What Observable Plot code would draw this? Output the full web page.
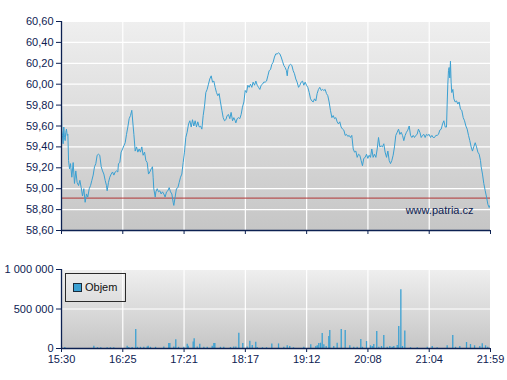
<!DOCTYPE html>
<html><head><meta charset="utf-8">
<script src="https://cdn.jsdelivr.net/npm/d3@7"></script>
<script src="https://cdn.jsdelivr.net/npm/@observablehq/plot@0.6"></script>
<style>
body{margin:0;background:#fff;font-family:Arial,"Liberation Sans",sans-serif;}
#wrap{position:relative;width:507px;height:380px;overflow:hidden;}
#topPanel{position:absolute;left:0;top:0;}
#bottomPanel{position:absolute;left:0;top:240px;}
#legend{position:absolute;left:65px;top:273px;width:61px;height:29px;border:1px solid #2a2a2a;box-sizing:border-box;}
#legend .sw{position:absolute;left:7px;top:9px;width:7px;height:7px;border:1px solid #1a2a3a;}
#legend .lb{position:absolute;left:19px;top:7px;font-size:11px;line-height:13px;color:#111;}
</style>
</head><body>
<div id="wrap"><div id="topPanel"></div><div id="bottomPanel"></div>
<div id="legend"><div class="sw"></div><div class="lb"></div></div></div>
<script>
// ---- data (minutes after 15:30) ----
const timeLabels = ["15:30","16:25","17:21","18:17","19:12","20:08","21:04","21:59"];
const priceTicks = [58.6,58.8,59.0,59.2,59.4,59.6,59.8,60.0,60.2,60.4,60.6];
const volumeTicks = [0, 500000, 1000000];
const prevClose = 58.91;
const seriesVolume = "Objem";
const watermark = "www.patria.cz";

const priceMin = [0,0.3,0.9,1.5,2.1,2.7,3.3,3.9,4.5,5.2,5.8,6.4,7.3,8.2,9.4,10.6,11.8,13.0,14.2,15.5,16.7,17.9,19.1,20.3,21.5,22.7,23.9,25.2,26.4,27.6,28.8,30.0,31.2,32.4,33.6,34.8,36.1,37.3,38.5,39.7,40.9,41.5,42.7,43.9,45.2,46.4,47.6,48.8,50.0,51.2,51.8,53.0,54.2,55.5,56.7,57.9,59.1,60.3,61.5,62.7,63.9,
65.2,65.8,67.0,68.2,69.4,70.6,71.8,73.0,74.2,75.5,76.7,77.9,79.1,80.3,81.5,82.7,83.3,83.9,85.2,85.8,87.0,88.2,89.4,90.6,91.8,93.0,94.2,95.5,96.7,97.9,99.1,100.3,101.5,102.1,103.3,104.5,105.8,107.0,108.2,109.4,110.6,111.8,113.0,114.2,115.5,116.7,117.9,119.1,120.3,121.5,122.7,123.9,125.2,126.4,127.6,128.8,130.0,
131.2,132.4,133.6,134.8,136.1,137.3,138.5,139.7,140.9,142.1,143.3,144.5,145.8,147.0,148.2,149.4,150.6,151.8,153.0,154.2,155.5,156.7,157.9,158.5,159.7,160.9,162.1,163.3,164.5,165.8,167.0,168.2,169.4,170.6,171.8,173.0,174.2,175.5,176.7,177.9,179.1,180.3,181.5,182.7,183.9,185.2,186.4,187.6,188.8,190.0,191.2,192.4,193.6,194.8,
196.1,197.3,198.5,199.7,200.9,202.1,203.3,204.5,205.2,205.8,207.0,208.2,209.4,210.6,211.8,213.0,214.2,215.5,216.7,217.9,219.1,220.3,221.5,222.7,223.9,225.2,226.4,227.6,228.8,230.0,231.2,232.4,233.6,234.8,236.1,237.3,238.5,239.7,240.9,242.1,243.3,244.5,245.8,247.0,248.2,249.4,250.6,251.8,253.0,254.2,255.5,256.7,257.9,259.1,260.3,
261.5,262.7,263.9,265.2,266.4,267.6,268.8,270.0,271.2,272.4,273.6,274.8,276.1,277.3,278.5,279.7,280.9,282.1,283.3,284.5,285.8,287.0,288.2,289.4,290.6,291.8,293.0,294.2,295.5,296.7,297.9,299.1,300.3,301.5,302.7,303.9,305.2,306.4,307.6,308.8,310.0,311.2,312.4,313.6,314.8,316.1,317.3,318.5,319.7,320.9,322.1,323.3,324.5,325.8,
327.0,328.2,329.4,330.6,331.8,333.0,334.2,335.5,336.7,337.9,339.1,340.3,341.5,342.7,343.9,345.2,346.4,347.6,348.8,350.0,350.6,351.2,351.8,352.4,353.0,353.6,354.2,354.8,355.8,356.7,357.9,359.1,360.3,361.5,362.7,363.9,365.2,366.4,367.6,368.8,370.0,371.2,372.4,373.6,374.8,376.1,377.3,378.5,379.7,380.9,381.5,382.7,383.9,385.2,386.4,387.6,388.8,389.7];
const price = [59.83,59.56,59.51,59.43,59.59,59.49,59.46,59.54,59.57,59.51,59.52,59.27,59.19,59.24,59.11,59.25,59.05,59.17,59.06,59.03,59.08,59.01,58.93,59.00,58.87,58.95,58.92,59.00,59.03,59.08,59.13,59.21,59.24,59.32,59.33,59.32,59.21,59.17,59.14,59.08,59.03,58.98,59.06,59.11,59.14,59.16,59.13,59.16,59.17,59.16,59.24,59.25,59.35,59.38,59.41,59.44,59.52,59.59,59.67,59.70,59.75,
59.59,59.52,59.36,59.40,59.35,59.38,59.35,59.40,59.32,59.35,59.27,59.25,59.14,59.16,59.19,59.21,59.11,59.00,58.92,58.97,59.00,58.97,58.98,58.95,58.97,58.95,58.92,58.97,58.98,59.01,58.97,58.95,58.87,58.84,58.92,59.00,59.01,59.06,59.11,59.14,59.25,59.35,59.49,59.54,59.62,59.65,59.59,59.66,59.60,59.65,59.59,59.64,59.59,59.60,59.57,59.70,59.79,
59.92,59.95,60.00,60.05,60.08,60.02,60.03,59.97,59.92,59.89,59.91,59.83,59.75,59.68,59.65,59.66,59.70,59.71,59.67,59.73,59.65,59.68,59.65,59.63,59.67,59.68,59.67,59.71,59.78,59.83,59.94,59.92,59.99,59.97,60.00,59.97,60.02,59.99,60.03,59.99,59.97,59.95,59.99,60.00,60.02,60.02,60.03,60.08,60.13,60.14,60.19,60.21,60.26,60.29,
60.29,60.30,60.29,60.26,60.22,60.18,60.16,60.13,60.08,60.14,60.18,60.19,60.18,60.13,60.10,60.05,60.02,59.97,59.99,60.02,60.03,59.99,60.02,59.99,59.97,59.92,59.86,59.84,59.83,59.86,59.84,59.91,59.95,59.97,59.94,59.95,59.94,59.95,59.91,59.89,59.83,59.75,59.68,59.70,59.67,59.68,59.64,59.62,59.64,59.59,59.57,59.56,59.51,59.52,59.50,
59.51,59.49,59.51,59.38,59.35,59.36,59.30,59.33,59.32,59.27,59.22,59.29,59.30,59.33,59.29,59.32,59.30,59.38,59.30,59.33,59.30,59.38,59.49,59.40,59.41,59.40,59.43,59.35,59.30,59.36,59.27,59.24,59.27,59.32,59.40,59.51,59.54,59.57,59.52,59.54,59.51,59.46,59.51,59.54,59.56,59.60,59.51,59.49,59.51,59.49,59.51,59.52,59.57,59.54,
59.49,59.51,59.52,59.49,59.52,59.51,59.52,59.49,59.51,59.49,59.49,59.51,59.51,59.52,59.56,59.57,59.62,59.65,59.59,59.59,59.81,60.00,60.13,60.16,60.06,60.22,60.02,59.92,59.95,59.86,59.83,59.84,59.81,59.83,59.76,59.75,59.68,59.65,59.60,59.57,59.51,59.46,59.40,59.36,59.40,59.44,59.40,59.35,59.33,59.27,59.21,59.14,59.05,58.98,58.92,58.85,58.82,58.84];

const volMin = [3.0,29.4,32.7,35.7,41.5,44.5,47.5,59.7,61.2,64.2,67.5,69.1,71.8,74.8,77.9,78.8,80.9,85.5,93.0,97.5,98.5,102.1,103.9,106.4,111.2,114.3,115.2,119.7,120.6,123.4,125.7,129.4,132.5,137.0,138.5,139.4,144.5,147.5,153.6,156.6,158.5,161.2,164.8,168.8,171.2,173.4,176.6,177.9,182.7,186.4,191.2,197.3,202.1,205.2,207.5,210.9,220.3,226.6,231.2,232.5,233.9,235.5,237.0,238.5,240.6,243.0,243.9,247.5,250.6,254.3,257.9,262.1,265.7,268.8,272.1,273.6,277.3,280.9,282.5,283.9,286.6,288.5,290.9,293.0,296.1,298.5,300.6,302.1,305.2,306.6,308.5,310.0,312.1,317.3,323.4,332.5,337.0,341.5,350.6,355.7,358.2,362.1,368.2,371.8,375.5,380.3,382.5,385.5,387.5];
const volume = [12000,29000,10000,10000,10000,10000,10000,29000,12000,12000,242000,15000,15000,15000,20000,29000,15000,15000,20000,62000,62000,20000,112000,15000,15000,54000,29000,83000,125000,20000,54000,15000,15000,29000,62000,62000,15000,15000,12000,20000,20000,192000,62000,20000,92000,38000,79000,12000,10000,10000,58000,58000,15000,34000,25000,10000,15000,46000,25000,34000,63000,67000,189000,46000,25000,151000,227000,25000,67000,239000,227000,34000,15000,15000,113000,15000,88000,34000,25000,50000,214000,15000,25000,164000,15000,25000,15000,25000,38000,277000,744000,25000,223000,10000,10000,15000,25000,10000,34000,164000,15000,25000,76000,50000,34000,25000,59000,34000,15000];

// ---- shared styling ----
const navy = "#0d2152";
const lineColor = "#3aa0d2";
const xDomain = [0, 390];
const xTicks = timeLabels.map((_, i) => i * 390 / 7);
const xFmt = (d) => timeLabels[xTicks.indexOf(d)];
const font = {fontFamily: 'Arial, "Liberation Sans", sans-serif', fontSize: "11px", color: navy, background: "transparent", overflow: "visible"};

function gradientBg(id) {
  return (index, scales, values, dims) => {
    const g = d3.create("svg:g");
    const lg = g.append("defs").append("linearGradient").attr("id", id)
      .attr("x1", 0).attr("y1", 0).attr("x2", 0).attr("y2", 1);
    lg.append("stop").attr("offset", "0%").attr("stop-color", "#efefef");
    lg.append("stop").attr("offset", "100%").attr("stop-color", "#c6c6c6");
    g.append("rect")
      .attr("x", dims.marginLeft).attr("y", dims.marginTop)
      .attr("width", dims.width - dims.marginLeft - dims.marginRight)
      .attr("height", dims.height - dims.marginTop - dims.marginBottom)
      .attr("fill", `url(#${id})`);
    return g.node();
  };
}

const priceData = priceMin.map((m, i) => ({m, p: price[i]}));
const volData = volMin.map((m, i) => ({m, v: volume[i]}));
const innerX = xTicks.slice(1, -1);

const topChart = Plot.plot({
  width: 507, height: 240,
  marginLeft: 61, marginRight: 17, marginTop: 21, marginBottom: 10,
  style: font,
  x: {domain: xDomain, axis: null, label: null},
  y: {domain: [58.6, 60.6], axis: null, label: null},
  marks: [
    gradientBg("gTop"),
    Plot.ruleY(priceTicks.slice(1), {stroke: "#ffffff", strokeWidth: 1.2}),
    Plot.ruleX(innerX, {stroke: "#ffffff", strokeWidth: 1.2}),
    Plot.ruleY([prevClose], {stroke: "#b03535", strokeWidth: 1}),
    Plot.line(priceData, {x: "m", y: "p", stroke: lineColor, strokeWidth: 1, clip: true}),
    Plot.text([watermark], {frameAnchor: "bottom-right", dx: -17, dy: -17, fill: navy, fontSize: 11, textAnchor: "end"}),
    Plot.axisY({ticks: priceTicks, label: null, tickFormat: d => d.toFixed(2).replace(".", ","), tickSize: 5, tickPadding: 3, stroke: navy, fill: navy}),
    Plot.axisX({ticks: xTicks, label: null, tickFormat: () => "", tickSize: 4, tickPadding: 0, stroke: navy}),
    Plot.ruleX([0], {stroke: navy, strokeWidth: 1.3}),
    Plot.ruleY([58.6], {stroke: navy, strokeWidth: 1.3})
  ]
});
document.getElementById("topPanel").appendChild(topChart);

const bottomChart = Plot.plot({
  width: 507, height: 140,
  marginLeft: 61, marginRight: 17, marginTop: 29, marginBottom: 32,
  style: font,
  x: {domain: xDomain, axis: null, label: null},
  y: {domain: [0, 1000000], axis: null, label: null},
  marks: [
    gradientBg("gBot"),
    Plot.ruleY(volumeTicks.slice(1), {stroke: "#ffffff", strokeWidth: 1.2}),
    Plot.ruleX(innerX, {stroke: "#ffffff", strokeWidth: 1.2}),
    Plot.ruleX(volData, {x: "m", y1: 0, y2: "v", stroke: lineColor, strokeWidth: 1.3}),
    Plot.axisY({ticks: volumeTicks, label: null, tickFormat: d => d3.format(",")(d).replace(/,/g, " "), tickSize: 5, tickPadding: 3, stroke: navy, fill: navy}),
    Plot.axisX({ticks: xTicks, label: null, tickFormat: xFmt, tickSize: 4, tickPadding: 3, stroke: navy, fill: navy}),
    Plot.ruleX([0], {stroke: navy, strokeWidth: 1.3}),
    Plot.ruleY([0], {stroke: navy, strokeWidth: 1.3})
  ]
});
document.getElementById("bottomPanel").appendChild(bottomChart);

document.querySelector("#legend .sw").style.background = lineColor;
document.querySelector("#legend .lb").textContent = seriesVolume;
</script>
</body></html>
